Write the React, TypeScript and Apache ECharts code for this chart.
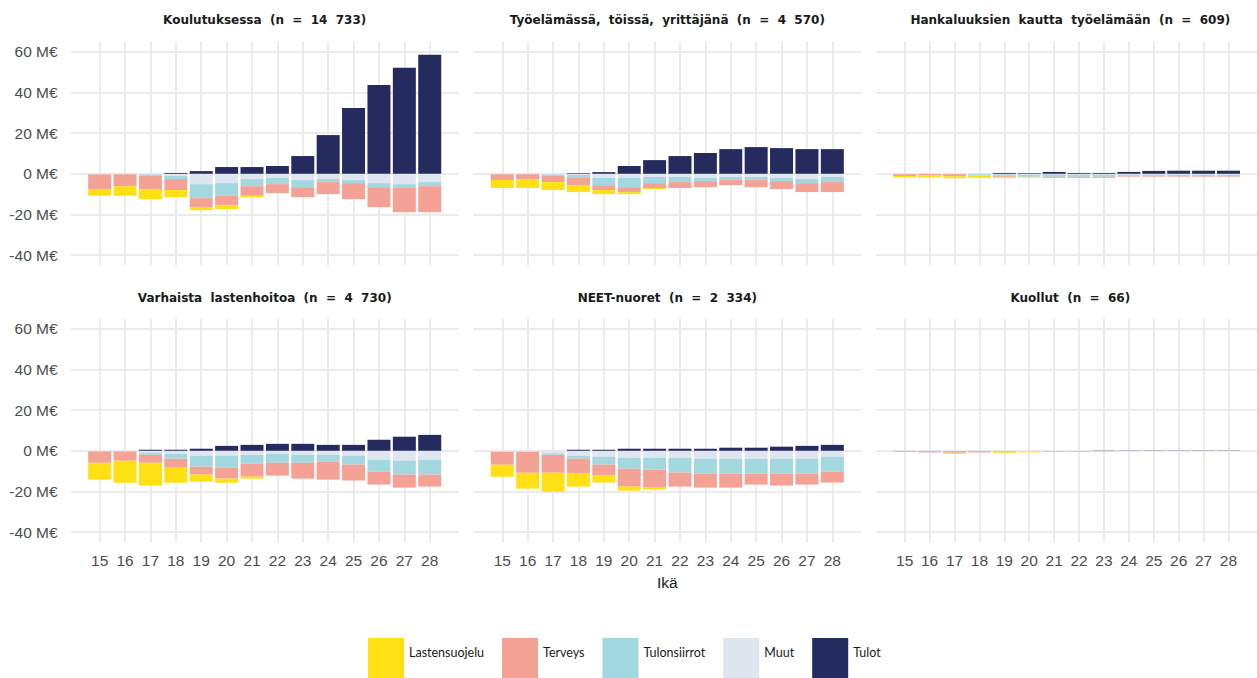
import React, { useEffect, useRef } from "react";
import * as echarts from "echarts";

const AGES = [15, 16, 17, 18, 19, 20, 21, 22, 23, 24, 25, 26, 27, 28];
const Y_TICKS = [-40, -20, 0, 20, 40, 60];

const PANEL_TITLES = [
  "Koulutuksessa  (n  =  14  733)",
  "Työelämässä,  töissä,  yrittäjänä  (n  =  4  570)",
  "Hankaluuksien  kautta  työelämään  (n  =  609)",
  "Varhaista  lastenhoitoa  (n  =  4  730)",
  "NEET-nuoret  (n  =  2  334)",
  "Kuollut  (n  =  66)",
];

// Koulutuksessa
const p1Lastensuojelu = [-3.3, -4.7, -5.0, -3.5, -1.5, -2.0, -0.7, 0, 0, 0, 0, 0, 0, 0];
const p1Terveys = [-7.2, -5.8, -6.4, -5.4, -4.4, -4.6, -4.7, -4.4, -4.9, -5.9, -7.9, -9.8, -11.9, -12.8];
const p1Tulonsiirrot = [0, 0, -0.7, -1.6, -6.9, -6.2, -3.5, -3.0, -3.5, -1.5, -1.5, -2.0, -1.9, -2.0];
const p1Muut = [-0.3, -0.3, -0.4, -1.0, -5.1, -4.6, -2.6, -2.1, -3.1, -2.6, -3.1, -4.6, -5.1, -4.1];
const p1Tulot = [0, 0, 0, 0.4, 1.3, 3.3, 3.3, 3.8, 8.7, 19.0, 32.3, 43.6, 52.0, 58.4];

// Työelämässä
const p2Lastensuojelu = [-3.9, -4.4, -3.9, -3.4, -2.0, -1.0, -0.5, 0, 0, 0, 0, 0, 0, 0];
const p2Terveys = [-2.9, -2.4, -3.1, -3.5, -2.4, -2.4, -2.4, -2.9, -3.0, -2.5, -3.5, -3.9, -4.4, -4.9];
const p2Tulonsiirrot = [0, 0, -0.6, -1.5, -3.5, -4.5, -3.0, -2.5, -1.5, -1.5, -1.5, -1.5, -2.0, -2.5];
const p2Muut = [-0.2, -0.2, -0.4, -0.6, -2.1, -2.1, -1.6, -1.6, -2.1, -1.6, -1.6, -2.1, -2.6, -1.6];
const p2Tulot = [0, 0, 0, 0.3, 0.8, 3.8, 6.7, 8.7, 10.2, 12.1, 13.1, 12.6, 12.1, 12.1];

// Hankaluuksien kautta
const p3Lastensuojelu = [-0.7, -1.0, -1.0, -1.1, -0.5, -0.4, 0, 0, 0, 0, 0, 0, 0, 0];
const p3Terveys = [-0.9, -0.7, -1.0, 0, -0.6, 0, -0.5, -0.5, -0.5, -0.5, -0.6, -0.6, -0.6, -0.6];
const p3Tulonsiirrot = [0, 0, 0, -0.7, -0.6, -1.0, -1.1, -1.0, -1.0, -0.4, -0.3, -0.3, -0.3, -0.3];
const p3Muut = [-0.2, -0.1, -0.2, -0.2, -0.3, -0.5, -0.4, -0.5, -0.5, -0.5, -0.5, -0.5, -0.5, -0.5];
const p3Tulot = [0, 0, 0, 0, 0.4, 0.3, 0.9, 0.4, 0.4, 0.9, 1.4, 1.5, 1.5, 1.5];

// Varhaista lastenhoitoa
const p4Lastensuojelu = [-8.3, -10.8, -11.2, -7.4, -3.5, -2.0, -1.0, 0, 0, 0, 0, 0, 0, 0];
const p4Terveys = [-5.5, -4.5, -3.9, -4.4, -3.9, -5.4, -6.3, -6.3, -7.8, -8.8, -7.8, -6.3, -6.4, -5.9];
const p4Tulonsiirrot = [0, 0, -1.0, -2.4, -5.4, -5.9, -4.4, -4.4, -3.9, -3.4, -4.4, -5.9, -6.8, -7.3];
const p4Muut = [-0.4, -0.4, -1.0, -1.5, -2.4, -2.4, -2.0, -1.5, -2.0, -2.0, -2.4, -4.4, -4.9, -4.4];
const p4Tulot = [0, 0, 0.5, 0.5, 1.0, 2.4, 2.9, 3.4, 3.4, 2.9, 2.9, 5.4, 6.9, 7.8];

// NEET-nuoret
const p5Lastensuojelu = [-5.9, -7.8, -9.3, -6.4, -3.4, -2.0, -1.0, 0, 0, 0, 0, 0, 0, 0];
const p5Terveys = [-6.4, -10.3, -8.8, -7.3, -5.4, -8.8, -8.8, -6.9, -6.9, -6.9, -5.4, -5.9, -5.4, -5.4];
const p5Tulonsiirrot = [0, 0, -0.7, -1.5, -3.9, -5.4, -5.9, -7.3, -7.3, -7.3, -7.3, -7.3, -7.3, -7.3];
const p5Muut = [-0.5, -0.5, -1.3, -2.4, -2.9, -3.4, -3.4, -3.4, -3.9, -3.9, -3.9, -3.9, -3.9, -2.9];
const p5Tulot = [0, 0, 0, 0.5, 0.5, 1.0, 1.0, 1.0, 1.0, 1.5, 1.5, 2.0, 2.4, 2.9];

// Kuollut
const p6Lastensuojelu = [0, 0, -0.5, 0, -0.5, -0.5, 0, 0, -0.1, 0, 0, 0, 0, 0];
const p6Terveys = [-0.4, -0.6, -0.8, -0.6, -0.3, 0, 0, -0.2, -0.1, 0, 0, 0, 0, 0];
const p6Tulonsiirrot = [0, 0, 0, 0, 0, 0, -0.4, -0.2, -0.1, 0, 0, 0, 0, 0];
const p6Muut = [-0.2, -0.2, -0.2, -0.2, -0.2, -0.3, -0.1, -0.1, -0.1, -0.1, -0.1, -0.1, -0.1, -0.1];
const p6Tulot = [0, 0, 0, 0, 0, 0, 0, 0, 0.1, 0.1, 0.1, 0.1, 0.1, 0.1];

const PANELS = [
  { Lastensuojelu: p1Lastensuojelu, Terveys: p1Terveys, Tulonsiirrot: p1Tulonsiirrot, Muut: p1Muut, Tulot: p1Tulot },
  { Lastensuojelu: p2Lastensuojelu, Terveys: p2Terveys, Tulonsiirrot: p2Tulonsiirrot, Muut: p2Muut, Tulot: p2Tulot },
  { Lastensuojelu: p3Lastensuojelu, Terveys: p3Terveys, Tulonsiirrot: p3Tulonsiirrot, Muut: p3Muut, Tulot: p3Tulot },
  { Lastensuojelu: p4Lastensuojelu, Terveys: p4Terveys, Tulonsiirrot: p4Tulonsiirrot, Muut: p4Muut, Tulot: p4Tulot },
  { Lastensuojelu: p5Lastensuojelu, Terveys: p5Terveys, Tulonsiirrot: p5Tulonsiirrot, Muut: p5Muut, Tulot: p5Tulot },
  { Lastensuojelu: p6Lastensuojelu, Terveys: p6Terveys, Tulonsiirrot: p6Tulonsiirrot, Muut: p6Muut, Tulot: p6Tulot },
];

const LEGEND_ORDER = ["Lastensuojelu", "Terveys", "Tulonsiirrot", "Muut", "Tulot"];
const STACK_ORDER = ["Muut", "Tulonsiirrot", "Terveys", "Lastensuojelu", "Tulot"];
const COLORS: Record<string, string> = {
  Lastensuojelu: "#FFE015",
  Terveys: "#F4A196",
  Tulonsiirrot: "#A4D8E0",
  Muut: "#DFE6F0",
  Tulot: "#252B5E",
};

const GRID_LEFTS = [70.6, 473.2, 876.2];
const GRID_TOPS = [41.4, 318.4];
const GRID_W = 388.2;
const GRID_H = 224;
const TICK_FONT = "Liberation Sans";
const TITLE_FONT = "DejaVu Sans";

export default function App() {
  const ref = useRef<HTMLDivElement>(null);

  useEffect(() => {
    if (!ref.current) return;
    const chart = echarts.init(ref.current, null, { renderer: "svg" });

    const grids: any[] = [];
    const xAxes: any[] = [];
    const yAxes: any[] = [];
    const titles: any[] = [];
    const series: any[] = [];

    PANELS.forEach((panel, i) => {
      const row = Math.floor(i / 3);
      const col = i % 3;
      grids.push({ left: GRID_LEFTS[col], top: GRID_TOPS[row], width: GRID_W, height: GRID_H });
      xAxes.push({
        type: "value",
        gridIndex: i,
        min: 13.855,
        max: 29.145,
        axisLine: { show: false },
        axisTick: { show: false, customValues: AGES },
        axisLabel: {
          show: row === 1,
          customValues: AGES,
          color: "#4D4D4D",
          fontSize: 15.5,
          fontFamily: TICK_FONT,
          margin: 10,
        },
        splitLine: { show: true, lineStyle: { color: "#EBEBEB", width: 2 } },
        name: i === 4 ? "Ikä" : "",
        nameLocation: "middle",
        nameGap: 32,
        nameTextStyle: { color: "#1A1A1A", fontSize: 15.5, fontFamily: TICK_FONT },
      });
      yAxes.push({
        type: "value",
        gridIndex: i,
        min: -45,
        max: 65,
        axisLine: { show: false },
        axisTick: { show: false, customValues: Y_TICKS },
        axisLabel: {
          show: col === 0,
          customValues: Y_TICKS,
          formatter: (v: number) => `${v} M€`,
          color: "#4D4D4D",
          fontSize: 15.5,
          fontFamily: TICK_FONT,
          margin: 13,
        },
        splitLine: { show: true, lineStyle: { color: "#EBEBEB", width: 2 } },
      });
      titles.push({
        text: PANEL_TITLES[i],
        left: GRID_LEFTS[col] + GRID_W / 2,
        top: row === 0 ? 14 : 292,
        textAlign: "center",
        padding: 0,
        textStyle: { fontFamily: TITLE_FONT, fontWeight: "bold", fontSize: 12, color: "#1A1A1A" },
      });
      STACK_ORDER.forEach((name) => {
        const vals = (panel as any)[name] as number[];
        series.push({
          type: "bar",
          name,
          xAxisIndex: i,
          yAxisIndex: i,
          stack: "s" + i,
          barWidth: 23,
          itemStyle: { color: COLORS[name] },
          // value first so that ECharts stacks the value (y) dimension
          encode: { x: 1, y: 0 },
          data: AGES.map((a, k) => [vals[k], a]),
        });
      });
    });

    chart.setOption({
      animation: false,
      title: titles,
      grid: grids,
      xAxis: xAxes,
      yAxis: yAxes,
      legend: {
        data: LEGEND_ORDER,
        icon: "rect",
        itemWidth: 36,
        itemHeight: 40,
        itemGap: 18,
        padding: 0,
        left: 368,
        top: 638,
        formatter: (name: string) => `{t|${name}}`,
        textStyle: {
          fontFamily: "Lato",
          fontSize: 12.5,
          color: "#1A1A1A",
          rich: { t: { fontFamily: "Lato", fontSize: 12.5, color: "#1A1A1A", padding: [0, 0, 12, 0] } },
        },
        selectedMode: false,
      },
      series,
    });

    return () => chart.dispose();
  }, []);

  return (
    <div
      ref={ref}
      style={{ position: "fixed", left: 0, top: 0, width: 1257, height: 678, background: "#fff" }}
    />
  );
}
